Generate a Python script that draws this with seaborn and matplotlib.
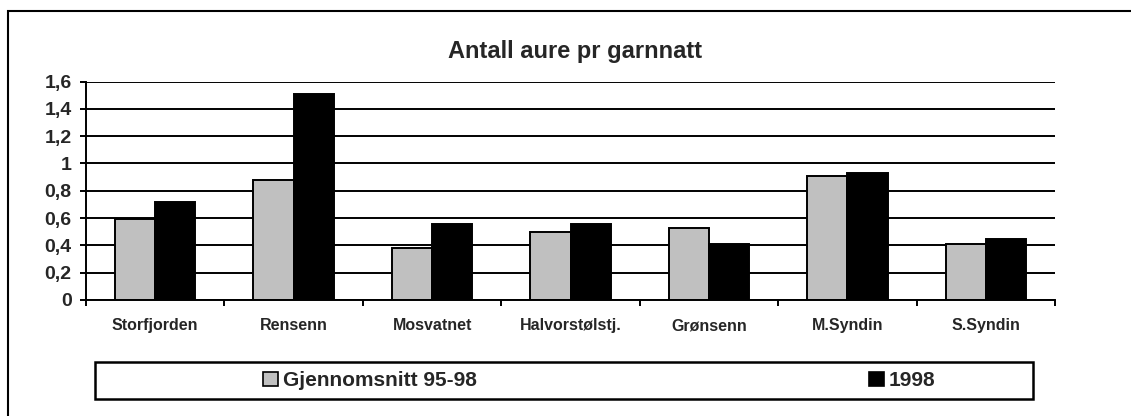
import numpy as np
import pandas as pd
import matplotlib
matplotlib.use('Agg')
import matplotlib.pyplot as plt
from matplotlib.patches import Rectangle
import seaborn as sns

# data lest av figuren
steder = ['Storfjorden', 'Rensenn', 'Mosvatnet', 'Halvorstølstj.', 'Grønsenn', 'M.Syndin', 'S.Syndin']
snitt_95_98 = [0.59, 0.88, 0.38, 0.50, 0.53, 0.91, 0.41]
aar_1998 = [0.72, 1.51, 0.56, 0.56, 0.41, 0.93, 0.45]
serier = ['Gjennomsnitt 95-98', '1998']
y_ticks = [0, 0.2, 0.4, 0.6, 0.8, 1.0, 1.2, 1.4, 1.6]
tittel = 'Antall aure pr garnnatt'

df = pd.DataFrame({
    'sted': steder * 2,
    'verdi': snitt_95_98 + aar_1998,
    'serie': [serier[0]] * len(steder) + [serier[1]] * len(steder),
})

sns.set_style('white')
plt.rcParams['font.family'] = ['Liberation Sans', 'DejaVu Sans']
plt.rcParams['font.weight'] = 'bold'

W, H = 1131, 416
fig = plt.figure(figsize=(W / 100, H / 100), dpi=100)
ax = fig.add_axes([86 / W, 1 - 300 / H, (1055 - 86) / W, (300 - 81.6) / H])

sns.barplot(data=df, x='sted', y='verdi', hue='serie', ax=ax,
            palette=['#c0c0c0', '#000000'], width=0.58, saturation=1,
            edgecolor='black', linewidth=1.4)

leg = ax.get_legend()
handles = leg.legend_handles
labels = [t.get_text() for t in leg.get_texts()]
leg.remove()

ax.set_xlim(-0.5, 6.5)
ax.set_ylim(0, 1.6)
ax.set_xlabel('')
ax.set_ylabel('')

ax.set_yticks(y_ticks)
ax.set_yticklabels([f'{v:g}'.replace('.', ',') for v in y_ticks], fontsize=14, fontweight='bold')
ax.tick_params(axis='y', length=4.3, width=1.4, color='black', pad=6, direction='out', left=True)

ax.set_xticks(np.arange(-0.5, 7, 1))
ax.set_xticklabels([])
ax.set_xticks(range(len(steder)), minor=True)
ax.set_xticklabels(steder, minor=True, fontsize=11.5, fontweight='bold')
ax.tick_params(axis='x', which='major', length=4.3, width=1.4, color='black', direction='out', bottom=True)
ax.tick_params(axis='x', which='minor', length=0, pad=13)

ax.yaxis.grid(True, color='black', linewidth=1.4)
ax.set_axisbelow(True)
for s in ['top', 'right']:
    ax.spines[s].set_visible(False)
for s in ['left', 'bottom']:
    ax.spines[s].set_color('black')
    ax.spines[s].set_linewidth(1.4)

fig.text(575 / W, 1 - 58.3 / H, tittel, ha='center', va='baseline',
         fontsize=17, fontweight='bold')

# ramme rundt hele figuren (høyre og nedre kant ligger utenfor bildet)
ramme_topp = 1 - 11 / H
fig.patches.append(Rectangle((8 / W, -0.2), 1.2, ramme_topp + 0.2,
                             transform=fig.transFigure, fill=False,
                             edgecolor='black', linewidth=1.5))

# legendeboks
fig.patches.append(Rectangle((95 / W, 1 - 399 / H), (1033 - 95) / W, 37 / H,
                             transform=fig.transFigure, fill=False,
                             edgecolor='black', linewidth=1.8))
for h in handles:
    h.set_edgecolor('black')
    h.set_linewidth(1.2)
fig.legend(handles, labels, loc='center left',
           bbox_to_anchor=(263 / W, 1 - 380.5 / H), bbox_transform=fig.transFigure,
           ncol=2, frameon=False, borderpad=0, borderaxespad=0,
           handlelength=0.72, handleheight=0.65, handletextpad=0.24,
           columnspacing=18.8, prop={'size': 15, 'weight': 'bold'})

fig.savefig('out.png', dpi=100, facecolor='white')
